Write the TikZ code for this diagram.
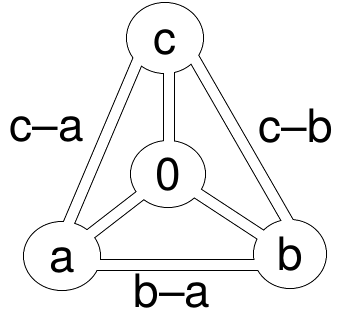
\documentclass[tikz,border=0pt]{standalone}
\usepackage{fontspec}
\setmainfont{TeX Gyre Heros}
\usetikzlibrary{shapes.geometric, calc}
\pgfdeclarelayer{rim}
\pgfdeclarelayer{core}
\pgfsetlayers{rim,core,main}

\begin{document}
\begin{tikzpicture}[
    x=1pt, y=-1pt,
    every node/.style={font=\fontsize{46}{46}\selectfont, text height=32pt, text depth=0pt, inner sep=0pt},
    vertex/.style={ellipse, minimum width=74pt, minimum height=68pt},
    pipe-rim/.style={line width=12pt, draw=black},
    pipe-core/.style={line width=10pt, draw=white}
]
    \useasboundingbox (0,0) rectangle (337,322);

    % Vertices
    \node[vertex] (c) at (165,38) {c};
    \node[vertex] (o) at (168,174) {0};
    \node[vertex] (a) at (62,256) {a};
    \node[vertex] (b) at (290,254) {b};

    % Edge labels
    \node (ca) at (47,125) {c–a};
    \node (cb) at (296,126) {c–b};
    \node (ba) at (172,291) {b–a};

    % Outline: black, a bit wider than the white core
    \begin{pgfonlayer}{rim}
        \foreach \v/\rx/\ry in {c/38/35, o/37/33, a/38/34, b/36/34}{
            \fill (\v.center) ellipse [x radius=\rx+1, y radius=\ry+1];
        }
        \foreach \p/\dx/\dy/\q/\ex/\ey in {c/-21/8/a/-2.5/-11, c/22/8/b/8.5/-14, c/3.5/0/o/0.5/0,
                                            o/0/0/a/0/0, o/0/0/b/0/0, a/0/9/b/0/11}{
            \draw[pipe-rim] ([shift={(\dx,\dy)}]\p.center) -- ([shift={(\ex,\ey)}]\q.center);
        }
    \end{pgfonlayer}

    % White core
    \begin{pgfonlayer}{core}
        \foreach \p/\dx/\dy/\q/\ex/\ey in {c/-21/8/a/-2.5/-11, c/22/8/b/8.5/-14, c/3.5/0/o/0.5/0,
                                            o/0/0/a/0/0, o/0/0/b/0/0, a/0/9/b/0/11}{
            \draw[pipe-core] ([shift={(\dx,\dy)}]\p.center) -- ([shift={(\ex,\ey)}]\q.center);
        }
        \foreach \v/\rx/\ry in {c/38/35, o/37/33, a/38/34, b/36/34}{
            \fill[white] (\v.center) ellipse [x radius=\rx, y radius=\ry];
        }
    \end{pgfonlayer}
\end{tikzpicture}
\end{document}
